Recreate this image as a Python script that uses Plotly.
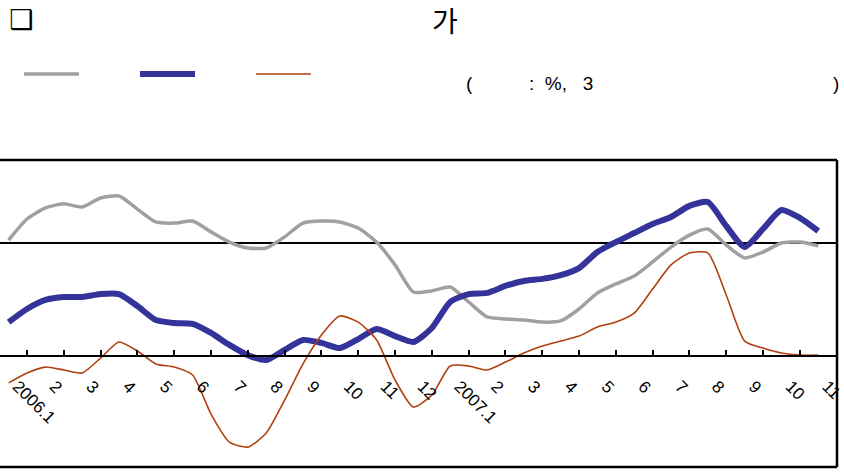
import plotly.graph_objects as go

# month labels (category axis)
month_labels = ["2006.1", "2", "3", "4", "5", "6", "7", "8", "9", "10", "11", "12",
                "2007.1", "2", "3", "4", "5", "6", "7", "8", "9", "10", "11"]

# observation points: every half month from 2006.1 to 2007.11 (index in months)
periods = [i * 0.5 for i in range(45)]

gray_vals = [5.13, 6.06, 6.55, 6.73, 6.59, 6.99, 7.08, 6.50, 5.93, 5.88,
             5.97, 5.49, 5.04, 4.78, 4.78, 5.27, 5.88, 5.97, 5.93, 5.66,
             5.04, 4.03, 2.83, 2.88, 3.05, 2.39, 1.73, 1.64, 1.59, 1.50,
             1.55, 2.08, 2.79, 3.19, 3.54, 4.16, 4.82, 5.35, 5.62, 4.91,
             4.34, 4.60, 5.00, 5.04, 4.87]

blue_vals = [1.50, 2.08, 2.48, 2.61, 2.61, 2.74, 2.74, 2.21, 1.59, 1.46,
             1.42, 1.02, 0.49, 0.04, -0.18, 0.27, 0.71, 0.58, 0.35, 0.75,
             1.19, 0.88, 0.62, 1.24, 2.39, 2.74, 2.79, 3.10, 3.32, 3.41,
             3.58, 3.89, 4.60, 5.04, 5.44, 5.84, 6.15, 6.64, 6.81, 5.75,
             4.82, 5.62, 6.46, 6.11, 5.53]

brown_vals = [-1.19, -0.75, -0.49, -0.62, -0.75, -0.09, 0.62, 0.22, -0.35, -0.49,
              -0.84, -2.57, -3.81, -4.03, -3.41, -1.95, -0.35, 0.93, 1.77, 1.50,
              0.71, -1.06, -2.26, -1.73, -0.44, -0.44, -0.62, -0.27, 0.13, 0.44,
              0.66, 0.88, 1.28, 1.50, 1.90, 2.96, 4.03, 4.56, 4.56, 2.70,
              0.66, 0.35, 0.13, 0.04, 0.04]

grid_vals = [5]

W, H = 844, 473
ML, MR, MT, MB = 0, 7, 160, 6
PW = W - ML - MR
PH = H - MT - MB

fig = go.Figure()
fig.add_trace(go.Scatter(x=periods, y=gray_vals, mode="lines", name=" ",
                         line=dict(color="#a0a0a0", width=3.5, shape="spline", smoothing=0.6)))
fig.add_trace(go.Scatter(x=periods, y=blue_vals, mode="lines", name=" ",
                         line=dict(color="#333399", width=6, shape="spline", smoothing=0.6)))
fig.add_trace(go.Scatter(x=periods, y=brown_vals, mode="lines", name=" ",
                         line=dict(color="#b0400e", width=1.6, shape="spline", smoothing=0.6)))

y_lo, y_hi = -4.91, 8.67
zero_pos = (0 - y_lo) / (y_hi - y_lo)

fig.update_layout(
    width=W, height=H,
    margin=dict(l=ML, r=MR, t=MT, b=MB),
    paper_bgcolor="white", plot_bgcolor="white",
    font=dict(family="Liberation Sans, Arial, sans-serif", color="black"),
    showlegend=True,
    legend=dict(orientation="h", xref="container", yref="container",
                x=19 / W, y=1 - 74 / H, xanchor="left", yanchor="middle",
                entrywidth=46, entrywidthmode="pixels", itemwidth=55,
                font=dict(size=12), bgcolor="rgba(0,0,0,0)"),
    xaxis=dict(range=[-0.234, 22.51], anchor="free", position=zero_pos,
               showline=True, linecolor="black", linewidth=1.5,
               showgrid=False, zeroline=False,
               tickmode="array", tickvals=list(range(len(month_labels))),
               ticktext=month_labels, tickangle=45, ticks="",
               tickfont=dict(size=17, family="Liberation Sans, Arial, sans-serif"),
               ticklabelstandoff=13, ticklabelshift=9, ticklabeloverflow="allow",
               minor=dict(tickmode="array",
                          tickvals=[i + 0.5 for i in range(len(month_labels))],
                          ticks="inside", ticklen=5, tickwidth=1.5, tickcolor="black",
                          showgrid=False)),
    yaxis=dict(range=[y_lo, y_hi], showticklabels=False, ticks="",
               tickmode="array", tickvals=grid_vals,
               showgrid=True, gridcolor="black", gridwidth=1.5,
               zeroline=False, showline=False),
)

# frame (top, right, bottom)
frame = dict(type="line", xref="paper", yref="paper", line=dict(color="black", width=2.5))
fig.add_shape(**frame, x0=0, x1=1, y0=1, y1=1)
fig.add_shape(**frame, x0=1, x1=1, y0=0, y1=1)
fig.add_shape(**frame, x0=0, x1=1, y0=0, y1=0)


def px_x(px):
    return (px - ML) / PW


def px_y(py):
    return (H - MB - py) / PH


fig.add_annotation(text="❑", x=px_x(7), y=px_y(19), xref="paper", yref="paper",
                   xanchor="left", yanchor="middle", showarrow=False,
                   font=dict(size=27, family="DejaVu Sans"))
fig.add_annotation(text="가", x=px_x(445), y=px_y(20), xref="paper", yref="paper",
                   xanchor="center", yanchor="middle", showarrow=False,
                   font=dict(size=28, family="Noto Sans CJK KR"))
fig.add_annotation(text="(", x=px_x(464), y=px_y(84), xref="paper", yref="paper",
                   xanchor="left", yanchor="middle", showarrow=False,
                   font=dict(size=19))
fig.add_annotation(text=":  %,   3", x=px_x(527), y=px_y(84), xref="paper", yref="paper",
                   xanchor="left", yanchor="middle", showarrow=False,
                   font=dict(size=19))
fig.add_annotation(text=")", x=px_x(841), y=px_y(84), xref="paper", yref="paper",
                   xanchor="right", yanchor="middle", showarrow=False,
                   font=dict(size=19))

fig.write_html("out.html", config={"displayModeBar": False},
               post_script="document.body.style.margin='0px';")
